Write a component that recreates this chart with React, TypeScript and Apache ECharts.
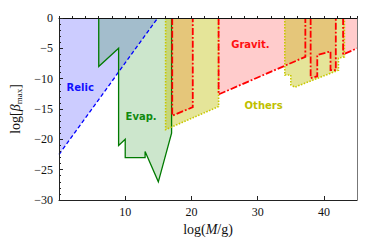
import React, { useEffect, useRef } from "react";
import * as echarts from "echarts";

type Pt = [number, number];

const xMin = 0;
const xMax = 45;
const yMin = -30;
const yMax = 0;

const relicArea: Pt[] = [[0, 0], [0, -22.5], [14.9, 0]];
const relicBoundary: Pt[] = [[0, -22.5], [14.9, 0]];

const evapBoundary: Pt[] = [
  [6, 0], [6, -8], [9, -5], [9, -21], [10, -20], [10, -23], [13, -23],
  [13, -22], [15, -27], [17, -19], [17, 0],
];

const gravitAreas: Pt[][] = [
  [[17.1, 0], [17.1, -16.1], [20.2, -14.7], [20.2, 0]],
  [[24.1, 0], [24.1, -12.6], [37.2, -6.4], [38.0, -6.4], [38.0, -9.9], [39.0, -9.6],
   [39.0, -6.1], [41.0, -5.5], [41.0, -8.6], [41.8, -8.6], [41.8, 0]],
  [[42.9, 0], [42.9, -6.0], [45, -5.0], [45, 0]],
];
const gravitBoundaries: Pt[][] = [
  [[17.1, 0], [17.1, -16.1], [20.2, -14.7], [20.2, 0]],
  [[24.1, 0], [24.1, -12.6], [37.2, -6.4], [37.2, 0]],
  [[38.0, 0], [38.0, -9.9], [39.0, -9.6], [39.0, -6.1], [41.0, -5.5], [41.0, -8.6], [41.8, -8.6], [41.8, 0]],
  [[42.9, 0], [42.9, -6.0], [45, -5.0]],
];

const othersAreas: Pt[][] = [
  [[16.1, 0], [16.1, -18.4], [24.1, -14.6], [24.1, 0]],
  [[34.1, 0], [34.1, -9.4], [35.0, -9.4], [35.0, -11.0], [35.6, -11.4], [42.2, -8.6],
   [42.2, -6.6], [43.1, -6.4], [43.1, 0]],
];

const labelNames = ["Relic", "Evap.", "Gravit.", "Others"];
const labelX = [3.2, 12.4, 28.9, 30.9];
const labelY = [-11.5, -16.3, -4.3, -14.5];
const labelColors = ["#1010ff", "#108a10", "#ff1010", "#bfbf00"];

function areaSeries(pts: Pt[], fill: string): any {
  return {
    type: "custom",
    coordinateSystem: "cartesian2d",
    silent: true,
    data: pts,
    encode: { x: 0, y: 1 },
    renderItem: (params: any, api: any) => {
      if (params.dataIndex !== 0) return null;
      return {
        type: "polygon",
        shape: { points: pts.map((p) => api.coord(p)) },
        style: { fill, stroke: "none" },
      };
    },
  };
}

function lineSeries(pts: Pt[], stroke: string, lineWidth: number, lineDash: number[] | null): any {
  return {
    type: "custom",
    coordinateSystem: "cartesian2d",
    silent: true,
    data: pts,
    encode: { x: 0, y: 1 },
    renderItem: (params: any, api: any) => {
      if (params.dataIndex !== 0) return null;
      return {
        type: "polyline",
        shape: { points: pts.map((p) => api.coord(p)) },
        style: { fill: "none", stroke, lineWidth, lineDash: lineDash || undefined },
      };
    },
  };
}

export default function App() {
  const ref = useRef<HTMLDivElement>(null);
  useEffect(() => {
    if (!ref.current) return;
    const chart = echarts.init(ref.current, undefined, { renderer: "svg" });
    const serif = "Liberation Serif";
    const series: any[] = [];
    series.push(areaSeries(relicArea, "rgba(0,0,255,0.2)"));
    series.push(areaSeries(evapBoundary, "rgba(0,128,0,0.2)"));
    gravitAreas.forEach((a) => series.push(areaSeries(a, "rgba(255,0,0,0.2)")));
    othersAreas.forEach((a) => series.push(areaSeries(a, "rgba(191,191,0,0.4)")));
    series.push(lineSeries(relicBoundary, "#0000ff", 1.3, [4, 2.5]));
    series.push(lineSeries(evapBoundary, "#007a00", 1.3, null));
    othersAreas.forEach((a) => series.push(lineSeries(a, "#c8c800", 1.6, [1.5, 1.5])));
    gravitBoundaries.forEach((a) => series.push(lineSeries(a, "#ff0000", 1.8, [7, 2, 1.8, 2])));
    series.push({
      type: "custom",
      coordinateSystem: "cartesian2d",
      silent: true,
      data: labelX.map((x, i) => [x, labelY[i], i]),
      encode: { x: 0, y: 1 },
      renderItem: (params: any, api: any) => {
        const i = params.dataIndex;
        const p = api.coord([api.value(0), api.value(1)]);
        return {
          type: "text",
          x: p[0],
          y: p[1],
          style: {
            text: labelNames[i],
            fill: labelColors[i],
            font: 'bold 10px "DejaVu Sans"',
            align: "center",
            verticalAlign: "middle",
          },
        };
      },
    });

    const option: any = {
      animation: false,
      grid: { left: 59, right: 17, top: 18, bottom: 49, show: false },
      xAxis: [
        {
          type: "value",
          min: xMin,
          max: xMax,
          interval: 10,
          position: "bottom",
          z: 10,
          axisLine: { show: true, onZero: false, lineStyle: { color: "#222", width: 1 } },
          axisTick: { show: true, inside: true, length: 4, lineStyle: { color: "#222" } },
          splitLine: { show: false },
          axisLabel: {
            color: "#111",
            fontFamily: serif,
            fontSize: 12,
            margin: 6,
            showMaxLabel: false,
            formatter: (v: number) => (v === 0 || v === 45 ? "" : String(v)),
          },
          name: "{n|log(}{i|M}{n|/g)}",
          nameLocation: "middle",
          nameGap: 21,
          nameTextStyle: {
            rich: {
              n: { fontFamily: serif, fontSize: 14, color: "#111" },
              i: { fontFamily: serif, fontSize: 14, fontStyle: "italic", color: "#111" },
            },
          },
        },
        {
          type: "value",
          min: xMin,
          max: xMax,
          interval: 2,
          position: "bottom",
          z: 10,
          axisLine: { show: false },
          axisTick: { show: true, inside: true, length: 2, lineStyle: { color: "#222" } },
          axisLabel: { show: false },
          splitLine: { show: false },
        },
        {
          type: "value",
          min: xMin,
          max: xMax,
          position: "top",
          z: 10,
          axisLine: { show: true, onZero: false, lineStyle: { color: "#111", width: 1 } },
          axisTick: { show: false },
          axisLabel: { show: false },
          splitLine: { show: false },
        },
      ],
      yAxis: [
        {
          type: "value",
          min: yMin,
          max: yMax,
          interval: 5,
          position: "left",
          z: 10,
          axisLine: { show: true, onZero: false, lineStyle: { color: "#222", width: 1 } },
          axisTick: { show: true, inside: true, length: 4, lineStyle: { color: "#222" } },
          minorTick: { show: true, splitNumber: 5, length: 2, lineStyle: { color: "#222" } },
          splitLine: { show: false },
          axisLabel: {
            color: "#111",
            fontFamily: serif,
            fontSize: 12,
            margin: 6,
            formatter: (v: number) => (v < 0 ? "\u2212" + Math.abs(v) : String(v)),
          },
          name: "{n|log[}{b|\u03b2}{s|max}{n|]}",
          nameLocation: "middle",
          nameGap: 33,
          nameTextStyle: {
            rich: {
              n: { fontFamily: serif, fontSize: 14, color: "#111", lineHeight: 16, verticalAlign: "top" },
              b: { fontFamily: serif, fontSize: 14, fontStyle: "italic", color: "#111", lineHeight: 16, verticalAlign: "top" },
              s: { fontFamily: serif, fontSize: 9, color: "#111", lineHeight: 12, verticalAlign: "top", padding: [6, 0, 0, 0] },
            },
          },
        },
        {
          type: "value",
          min: yMin,
          max: yMax,
          position: "right",
          z: 10,
          axisLine: { show: true, onZero: false, lineStyle: { color: "#777", width: 1 } },
          axisTick: { show: false },
          axisLabel: { show: false },
          splitLine: { show: false },
        },
      ],
      series,
    };
    chart.setOption(option);
    return () => chart.dispose();
  }, []);
  return (
    <div
      ref={ref}
      style={{ position: "fixed", left: 0, top: 0, width: 374, height: 249, background: "#fff" }}
    />
  );
}
